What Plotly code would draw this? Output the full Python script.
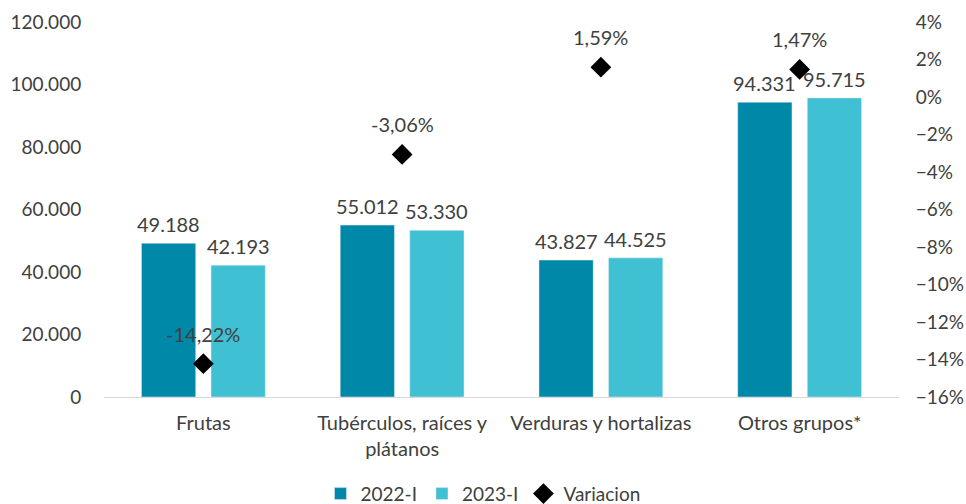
import plotly.graph_objects as go

categories = ["Frutas", "Tubérculos, raíces y<br>plátanos", "Verduras y hortalizas", "Otros grupos*"]
values_2022 = [49188, 55012, 43827, 94331]
values_2023 = [42193, 53330, 44525, 95715]
variacion = [-0.1422, -0.0306, 0.0159, 0.0147]

FONT = "Lato, sans-serif"
TXT = "#404040"
FS = 20
BAR_SHIFT = 34.8


def fmt_int(v):
    return f"{v:,}".replace(",", ".")


def fmt_pct(v):
    return f"{v * 100:.2f}%".replace(".", ",")


fig = go.Figure()
fig.add_trace(go.Bar(name="2022-I", x=categories, y=values_2022, marker_color="#0088A8"))
fig.add_trace(go.Bar(name="2023-I", x=categories, y=values_2023, marker_color="#3FC1D3"))
fig.add_trace(go.Scatter(
    name="Variacion", x=categories, y=variacion, yaxis="y2", mode="markers",
    marker=dict(symbol="diamond", size=16, color="black"), cliponaxis=False,
))

annotations = []
for cat, v in zip(categories, values_2022):
    annotations.append(dict(x=cat, y=v, xref="x", yref="y", text=fmt_int(v), showarrow=False,
                            yanchor="bottom", xshift=-BAR_SHIFT, yshift=5,
                            font=dict(size=FS, color=TXT)))
for cat, v in zip(categories, values_2023):
    annotations.append(dict(x=cat, y=v, xref="x", yref="y", text=fmt_int(v), showarrow=False,
                            yanchor="bottom", xshift=BAR_SHIFT, yshift=5,
                            font=dict(size=FS, color=TXT)))
for cat, v in zip(categories, variacion):
    annotations.append(dict(x=cat, y=v, xref="x", yref="y2", text=fmt_pct(v), showarrow=False,
                            yanchor="middle", yshift=30,
                            font=dict(size=FS, color=TXT)))

fig.update_layout(
    width=966, height=504,
    margin=dict(l=104, r=67, t=22, b=107, autoexpand=False),
    paper_bgcolor="white", plot_bgcolor="white",
    separators=",.",
    font=dict(family=FONT, size=FS, color=TXT),
    barmode="group", bargap=0.30, bargroupgap=0.22,
    showlegend=True,
    annotations=annotations,
    legend=dict(orientation="h", x=0.5, xanchor="center", xref="container",
                y=-0.258, yanchor="middle", yref="paper",
                font=dict(size=19, color=TXT), itemwidth=30, traceorder="normal"),
    xaxis=dict(showgrid=False, showline=True, linecolor="#D9D9D9", linewidth=1,
               ticks="outside", ticklen=8, tickcolor="rgba(0,0,0,0)",
               tickfont=dict(size=FS, color=TXT)),
    yaxis=dict(range=[0, 120000], dtick=20000, tickformat=",", showgrid=False,
               zeroline=False, showline=False, tickfont=dict(size=19, color=TXT),
               ticks="outside", ticklen=18, tickcolor="rgba(0,0,0,0)"),
    yaxis2=dict(range=[-0.16, 0.04], dtick=0.02, tickformat=".0%", overlaying="y",
                side="right", showgrid=False, zeroline=False, showline=False,
                tickfont=dict(size=19, color=TXT), ticks="outside", ticklen=12,
                tickcolor="rgba(0,0,0,0)"),
)

fig.write_html(
    "out.html",
    config={"displayModeBar": False},
    post_script="document.body.style.margin='0';document.body.style.overflow='hidden';",
)
